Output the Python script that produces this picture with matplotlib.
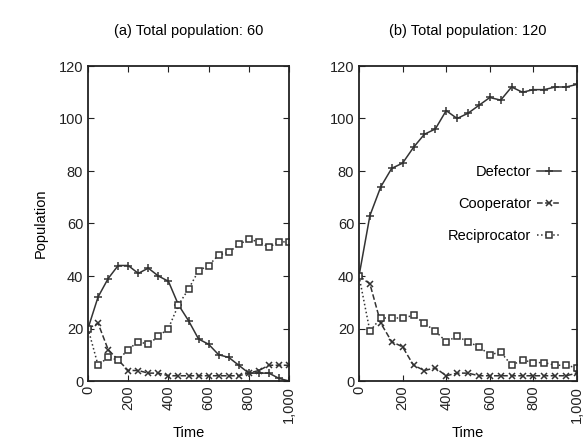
import matplotlib.pyplot as plt
from matplotlib.ticker import FuncFormatter

plt.rcParams['font.family'] = ['Liberation Sans', 'DejaVu Sans']

time = [0, 50, 100, 150, 200, 250, 300, 350, 400, 450, 500,
        550, 600, 650, 700, 750, 800, 850, 900, 950, 1000]

# (a) total population 60
defector_a = [20, 32, 39, 44, 44, 41, 43, 40, 38, 29, 23, 16, 14, 10, 9, 6, 3, 3, 3, 1, 0]
cooperator_a = [20, 22, 12, 8, 4, 4, 3, 3, 2, 2, 2, 2, 2, 2, 2, 2, 3, 4, 6, 6, 6]
reciprocator_a = [20, 6, 9, 8, 12, 15, 14, 17, 20, 29, 35, 42, 44, 48, 49, 52, 54, 53, 51, 53, 53]

# (b) total population 120
defector_b = [40, 63, 74, 81, 83, 89, 94, 96, 103, 100, 102, 105, 108, 107, 112, 110, 111, 111, 112, 112, 113]
cooperator_b = [40, 37, 22, 15, 13, 6, 4, 5, 2, 3, 3, 2, 2, 2, 2, 2, 2, 2, 2, 2, 3]
reciprocator_b = [40, 19, 24, 24, 24, 25, 22, 19, 15, 17, 15, 13, 10, 11, 6, 8, 7, 7, 6, 6, 5]

titles = ['(a) Total population: 60', '(b) Total population: 120']
x_ticks = [0, 200, 400, 600, 800, 1000]
y_ticks = [0, 20, 40, 60, 80, 100, 120]

col = '#333333'


def style_axis(ax):
    ax.set_xlim(0, 1000)
    ax.set_ylim(0, 120)
    ax.set_xticks(x_ticks)
    ax.set_yticks(y_ticks)
    ax.xaxis.set_major_formatter(FuncFormatter(lambda v, p: f'{int(v):,}'))
    ax.tick_params(direction='in', top=True, right=True, length=4,
                   labelsize=10.5, colors='#222222')
    for lab in ax.get_xticklabels():
        lab.set_rotation(90)
    for s in ax.spines.values():
        s.set_linewidth(1.3)
        s.set_color('#222222')
    ax.set_xlabel('Time', fontsize=10.5, labelpad=2)


fig = plt.figure(figsize=(5.87, 4.4), dpi=100)
ax1 = fig.add_axes([88 / 587, 1 - 381 / 440, 201 / 587, 315 / 440])
ax2 = fig.add_axes([359 / 587, 1 - 381 / 440, 218 / 587, 315 / 440])

for ax, d, c, r, t in [(ax1, defector_a, cooperator_a, reciprocator_a, titles[0]),
                       (ax2, defector_b, cooperator_b, reciprocator_b, titles[1])]:
    ax.plot(time, d, '-', marker='+', color=col, lw=1.1, ms=5.5, mew=1.1, label='Defector')
    ax.plot(time, c, '--', marker='x', color=col, lw=1.1, ms=4.5, mew=1.1, label='Cooperator')
    ax.plot(time, r, ':', marker='s', color=col, lw=1.1, ms=5, mew=1.1,
            mfc='white', label='Reciprocator')
    style_axis(ax)
    ax.set_title(t, fontsize=10.5, pad=22)

ax1.set_ylabel('Population', fontsize=10.5, labelpad=8)

ax2.legend(loc='upper right', bbox_to_anchor=(0.985, 0.728), frameon=False,
           markerfirst=False, fontsize=10.5, handlelength=1.6, labelspacing=1.25,
           handletextpad=0.4)

fig.savefig('out.png', dpi=100)
